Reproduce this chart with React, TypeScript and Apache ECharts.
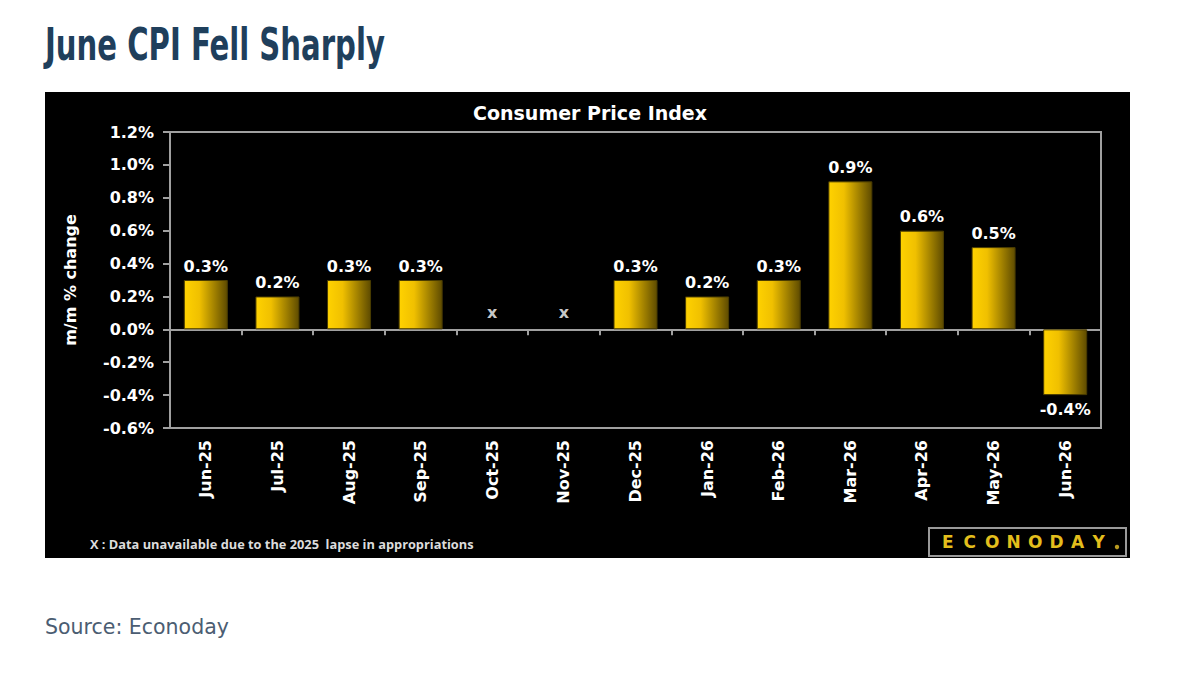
import React, { useEffect, useRef } from "react";
import * as echarts from "echarts";

const categories = ["Jun-25", "Jul-25", "Aug-25", "Sep-25", "Oct-25", "Nov-25", "Dec-25", "Jan-26", "Feb-26", "Mar-26", "Apr-26", "May-26", "Jun-26"];
const cpiChange: (number | null)[] = [0.3, 0.2, 0.3, 0.3, null, null, 0.3, 0.2, 0.3, 0.9, 0.6, 0.5, -0.4];
const unavailable = ["Oct-25", "Nov-25"];
const yMin = -0.6;
const yMax = 1.2;
const yInterval = 0.2;

const pageTitle = "June CPI Fell Sharply";
const chartTitle = "Consumer Price Index";
const yAxisName = "m/m % change";
const footnote = "X : Data unavailable due to the 2025  lapse in appropriations";
const sourceText = "Source: Econoday";
const logoLetters = ["E", "C", "O", "N", "O", "D", "A", "Y"];

const FONT = "'DejaVu Sans', sans-serif";

export default function App() {
  const ref = useRef<HTMLDivElement>(null);
  useEffect(() => {
    if (!ref.current) return;
    const chart = echarts.init(ref.current, null, { renderer: "svg" });
    const barGradient = new echarts.graphic.LinearGradient(0, 0, 1, 0, [
      { offset: 0, color: "#ffd200" },
      { offset: 0.35, color: "#f0c000" },
      { offset: 1, color: "#5e4b00" },
    ]);
    const barData = cpiChange.map((v) =>
      v === null
        ? null
        : {
            value: v,
            label: { position: v < 0 ? "bottom" : "top" },
          }
    );
    const xData = categories.map((c) => (unavailable.includes(c) ? 0.1 : null));

    const logoGraphics = logoLetters.map((ch, i) => ({
      type: "text",
      left: 942 + i * 21.5,
      top: 533,
      style: { text: ch, fill: "#e3be1c", font: `bold 17px ${FONT}` },
    }));

    chart.setOption({
      animation: false,
      backgroundColor: "#ffffff",
      graphic: [
        {
          type: "rect",
          shape: { x: 45, y: 92, width: 1085, height: 466 },
          style: { fill: "#000000" },
          z: -10,
        },
        {
          type: "text",
          x: 45,
          y: 22,
          scaleX: 0.72,
          style: { text: pageTitle, fill: "#1f3f5c", font: `bold 45px 'DejaVu Sans Condensed', ${FONT}` },
        },
        {
          type: "text",
          x: 590,
          y: 103,
          style: { text: chartTitle, fill: "#ffffff", font: `bold 19px ${FONT}`, align: "center" },
        },
        {
          type: "text",
          x: 90,
          y: 537,
          style: { text: footnote, fill: "#dcdcdc", font: `bold 12.8px 'Open Sans', sans-serif` },
        },
        {
          type: "rect",
          shape: { x: 929, y: 528, width: 197, height: 28 },
          style: { fill: "#000000", stroke: "#9a9a9a", lineWidth: 2 },
        },
        ...logoGraphics,
        {
          type: "circle",
          shape: { cx: 1117, cy: 547, r: 2.2 },
          style: { fill: "#b89a20" },
        },
        {
          type: "text",
          x: 45,
          y: 616,
          style: { text: sourceText, fill: "#4b5d72", font: `20.5px 'DejaVu Sans', sans-serif` },
        },
      ],
      grid: {
        left: 170,
        right: 99,
        top: 132,
        bottom: 247,
        show: true,
        borderColor: "#a0a0a0",
        borderWidth: 2,
        backgroundColor: "transparent",
      },
      xAxis: [
        {
          type: "category",
          data: categories,
          position: "bottom",
          axisLine: { show: false, onZero: false },
          axisTick: { show: false },
          axisLabel: {
            rotate: 90,
            color: "#ffffff",
            fontFamily: FONT,
            fontWeight: "bold",
            fontSize: 16,
            margin: 12,
          },
        },
        {
          type: "category",
          data: categories,
          position: "top",
          axisLine: { show: true, onZero: true, lineStyle: { color: "#a0a0a0", width: 2 } },
          axisTick: { show: true, inside: true, length: 6, lineStyle: { color: "#a0a0a0", width: 2 } },
          axisLabel: { show: false },
        },
      ],
      yAxis: {
        type: "value",
        min: yMin,
        max: yMax,
        interval: yInterval,
        axisLine: { show: true, lineStyle: { color: "#a0a0a0", width: 2 } },
        axisTick: { show: true, length: 7, lineStyle: { color: "#a0a0a0", width: 2 } },
        splitLine: { show: false },
        axisLabel: {
          color: "#ffffff",
          fontFamily: FONT,
          fontWeight: "bold",
          fontSize: 16,
          margin: 16,
          formatter: (v: number) => (Math.abs(v) < 1e-9 ? 0 : v).toFixed(1) + "%",
        },
        name: yAxisName,
        nameLocation: "middle",
        nameGap: 92,
        nameRotate: 90,
        nameTextStyle: { color: "#ffffff", fontFamily: FONT, fontWeight: "bold", fontSize: 16 },
      },
      series: [
        {
          type: "bar",
          xAxisIndex: 0,
          data: barData,
          barWidth: 44,
          itemStyle: { color: barGradient, borderColor: "#4a3c00", borderWidth: 1 },
          label: {
            show: true,
            color: "#ffffff",
            fontFamily: FONT,
            fontWeight: "bold",
            fontSize: 16,
            distance: 6,
            formatter: (p: any) => Number(p.value).toFixed(1) + "%",
          },
          z: 3,
        },
        {
          type: "scatter",
          xAxisIndex: 0,
          data: xData,
          symbolSize: 0,
          label: {
            show: true,
            position: "inside",
            formatter: "x",
            color: "#ffffff",
            fontFamily: FONT,
            fontWeight: "bold",
            fontSize: 16,
          },
        },
      ],
    });
    return () => chart.dispose();
  }, []);
  return <div ref={ref} style={{ position: "fixed", left: 0, top: 0, width: 1200, height: 675 }} />;
}
